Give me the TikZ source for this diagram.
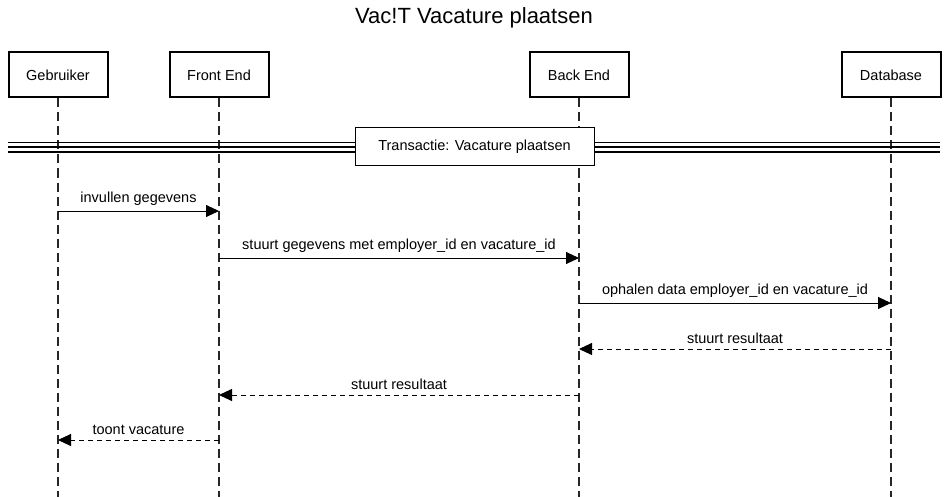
\documentclass[tikz,border=0pt]{standalone}
\usepackage{fontspec}
\setmainfont{Liberation Sans}
\usetikzlibrary{arrows.meta}
\begin{document}
\begin{tikzpicture}[x=1pt,y=-1pt,
  actor/.style={draw=black,line width=2pt,minimum width=99pt,minimum height=45pt,inner sep=0pt,font=\fontsize{14.5}{16}\selectfont,fill=white},
  life/.style={draw=black!85,line width=1.3pt,dash pattern=on 9pt off 5pt},
  msg/.style={line width=0.9pt,-{Triangle[length=13pt,width=12pt]}},
  ret/.style={msg,dash pattern=on 5pt off 4pt},
  lbl/.style={font=\fontsize{14.5}{16}\selectfont,inner sep=0pt,anchor=base}]
\useasboundingbox (0,0) rectangle (949,497);
\node[font=\fontsize{22}{25}\selectfont] (title) at (474,18) {Vac!T Vacature plaatsen};
% lifelines
\coordinate (gE) at (58,497);
\coordinate (fE) at (219,497);
\coordinate (bE) at (579,497);
\coordinate (dE) at (891,497);
\node[actor] (g) at (58,75) {Gebruiker};
\node[actor] (f) at (219,75) {Front End};
\node[actor] (b) at (579,75) {Back End};
\node[actor] (d) at (891,75) {Database};
\draw[life] (g.south) -- (gE);
\draw[life] (f.south) -- (fE);
\draw[life] (b.south) -- (bE);
\draw[life] (d.south) -- (dE);
% transaction band
\coordinate (L1) at (8,142); \coordinate (R1) at (940,142);
\coordinate (L2) at (8,147); \coordinate (R2) at (940,147);
\coordinate (L3) at (8,152); \coordinate (R3) at (940,152);
\draw[line width=0.8pt] (L1) -- (R1);
\draw[line width=1.2pt] (L2) -- (R2);
\draw[line width=1.2pt] (L3) -- (R3);
\node[draw=black,line width=1pt,fill=white,minimum width=239pt,minimum height=38pt,inner sep=0pt,font=\fontsize{14.5}{16}\selectfont] (t) at (474.5,147) {Transactie: Vacature plaatsen};
% messages
\coordinate (g1) at (58,211); \coordinate (f1) at (219,211);
\coordinate (f2) at (219,258); \coordinate (b2) at (579,258);
\coordinate (b3) at (579,303); \coordinate (d3) at (891,303);
\coordinate (d4) at (891,349); \coordinate (b4) at (579,349);
\coordinate (b5) at (579,395); \coordinate (f5) at (219,395);
\coordinate (f6) at (219,440); \coordinate (g6) at (58,440);
\draw[msg] (g1) -- node[lbl,above=5pt] {invullen gegevens} (f1);
\draw[msg] (f2) -- node[lbl,above=5pt] {stuurt gegevens met employer\_id en vacature\_id} (b2);
\draw[msg] (b3) -- node[lbl,above=5pt] {ophalen data employer\_id en vacature\_id} (d3);
\draw[ret] (d4) -- node[lbl,above=5pt] {stuurt resultaat} (b4);
\draw[ret] (b5) -- node[lbl,above=5pt] {stuurt resultaat} (f5);
\draw[ret] (f6) -- node[lbl,above=5pt] {toont vacature} (g6);
\end{tikzpicture}
\end{document}
